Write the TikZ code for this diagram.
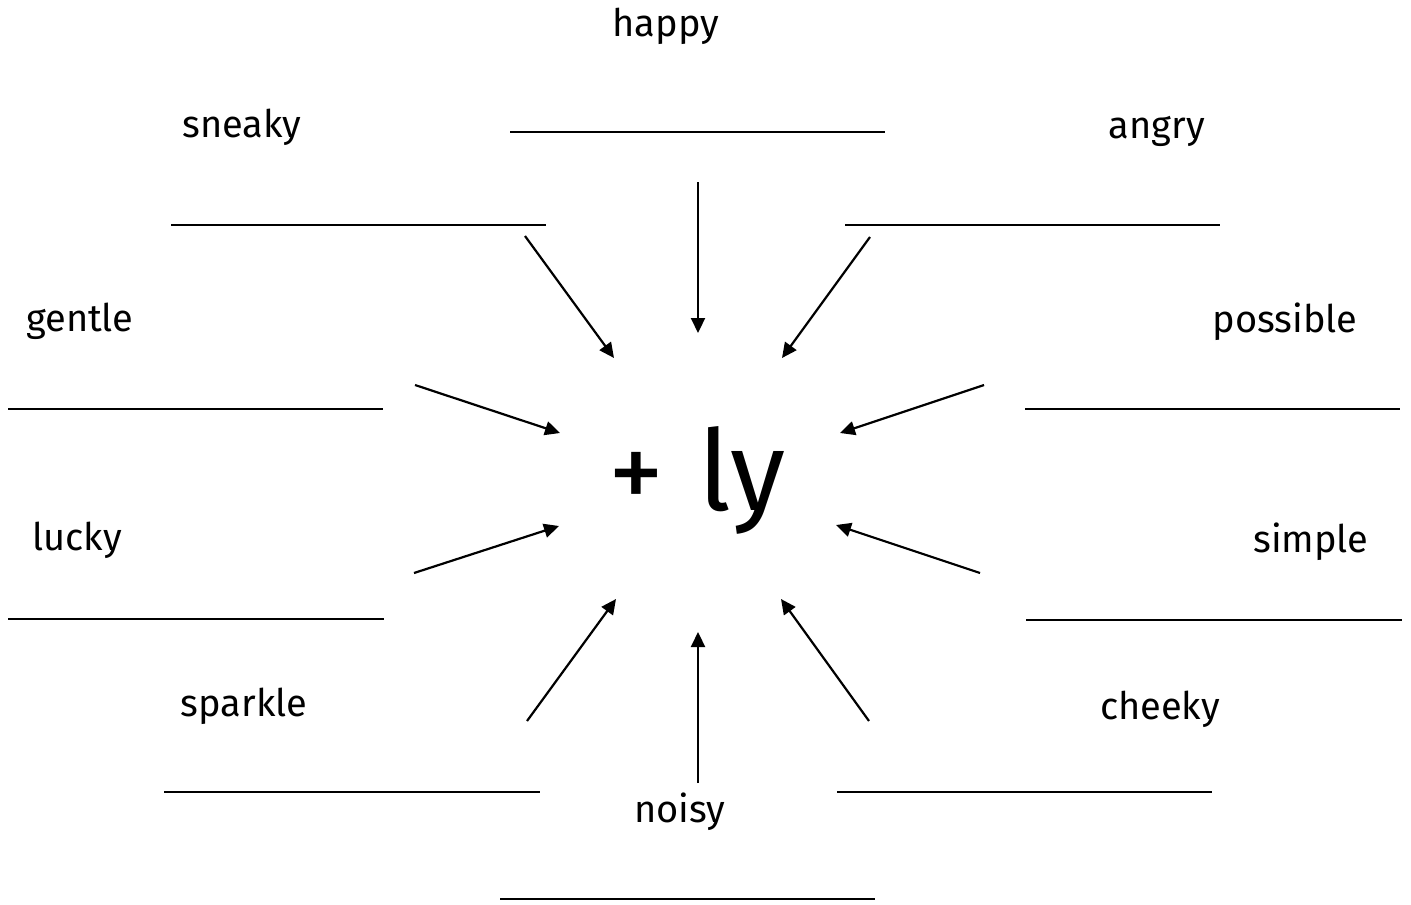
\documentclass[tikz,border=0pt]{standalone}
\usepackage{fontspec}
\setmainfont{Fira Sans}
\usetikzlibrary{arrows.meta}
\begin{document}
\begin{tikzpicture}[x=0.5pt,y=-0.5pt,
  word/.style={anchor=base,inner sep=0pt,font=\fontsize{19}{23}\selectfont},
  blank/.style={line width=1.1pt},
  arr/.style={line width=1.1pt,-{Triangle[length=7.5pt,width=7pt]}}]
\useasboundingbox (0,0) rectangle (1411,904);
% centre
\node[anchor=base,inner sep=0pt,font=\fontsize{56}{60}\selectfont] (ly) at (697,510) {+\hspace{0.3em}ly};
% words
\node[word] (happy) at (666,37) {happy};
\node[word] (sneaky) at (242,137) {sneaky};
\node[word] (angry) at (1157,138) {angry};
\node[word] (gentle) at (80,331) {gentle};
\node[word] (possible) at (1285,332) {possible};
\node[word] (lucky) at (77,550) {lucky};
\node[word] (simple) at (1311,552) {simple};
\node[word] (sparkle) at (244,716) {sparkle};
\node[word] (cheeky) at (1160,719) {cheeky};
\node[word] (noisy) at (680,822) {noisy};
% answer lines
\coordinate (l1a) at (510,132); \coordinate (l1b) at (885,132);
\coordinate (l2a) at (171,225); \coordinate (l2b) at (546,225);
\coordinate (l3a) at (845,225); \coordinate (l3b) at (1220,225);
\coordinate (l4a) at (8,409);   \coordinate (l4b) at (383,409);
\coordinate (l5a) at (1025,409);\coordinate (l5b) at (1400,409);
\coordinate (l6a) at (8,619);   \coordinate (l6b) at (384,619);
\coordinate (l7a) at (1026,620);\coordinate (l7b) at (1402,620);
\coordinate (l8a) at (164,792); \coordinate (l8b) at (540,792);
\coordinate (l9a) at (837,792); \coordinate (l9b) at (1212,792);
\coordinate (l10a) at (500,899);\coordinate (l10b) at (875,899);
\foreach \i in {1,...,10} {\draw[blank] (l\i a) -- (l\i b);}
% arrows
\coordinate (s1) at (698,182); \coordinate (e1) at (698,333);
\coordinate (s2) at (525,236); \coordinate (e2) at (614,358);
\coordinate (s3) at (870,237); \coordinate (e3) at (782,358);
\coordinate (s4) at (415,385); \coordinate (e4) at (560,433);
\coordinate (s5) at (984,385); \coordinate (e5) at (840,433);
\coordinate (s6) at (414,573); \coordinate (e6) at (559,526);
\coordinate (s7) at (980,573); \coordinate (e7) at (836,525);
\coordinate (s8) at (527,721); \coordinate (e8) at (616,599);
\coordinate (s9) at (869,721); \coordinate (e9) at (781,599);
\coordinate (s10) at (698,783); \coordinate (e10) at (698,632);
\foreach \i in {1,...,10} {\draw[arr] (s\i) -- (e\i);}
\end{tikzpicture}
\end{document}
